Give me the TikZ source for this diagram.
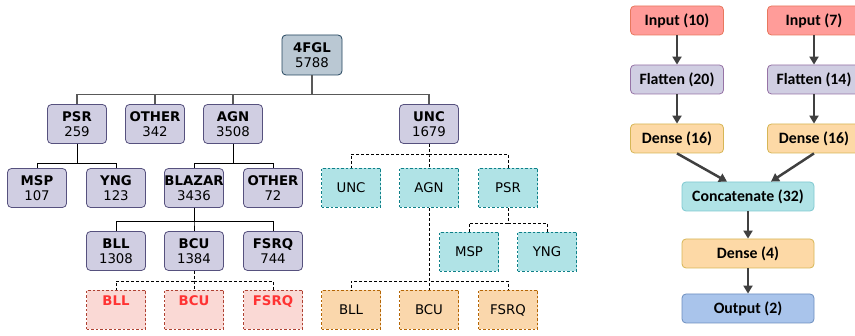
\documentclass[tikz,border=0pt]{standalone}
\usepackage{fontspec}
\setmainfont{DejaVu Sans}
\newfontfamily\calibfont{Carlito}
\usetikzlibrary{positioning,arrows.meta}

\definecolor{topfill}{HTML}{BAC8D3}
\definecolor{topline}{HTML}{23445D}
\definecolor{lavfill}{HTML}{D0CEE2}
\definecolor{lavline}{HTML}{56517E}
\definecolor{cyanfill}{HTML}{B0E3E6}
\definecolor{cyanline}{HTML}{0E8088}
\definecolor{orafill}{HTML}{FAD7AC}
\definecolor{oraline}{HTML}{B46504}
\definecolor{redfill}{HTML}{FAD9D5}
\definecolor{redline}{HTML}{AE4132}
\definecolor{redtext}{HTML}{FF3333}
\definecolor{infill}{HTML}{FF9C99}
\definecolor{inline}{HTML}{E8785E}
\definecolor{flline}{HTML}{9673A6}
\definecolor{defill}{HTML}{FDD9A6}
\definecolor{deline}{HTML}{D6B656}
\definecolor{catline}{HTML}{7EC8D0}
\definecolor{outfill}{HTML}{A9C4EB}
\definecolor{outline}{HTML}{6C8EBF}
\definecolor{arrowgray}{HTML}{404040}

\tikzset{
	box/.style={rectangle, minimum width=59pt, minimum height=39pt, inner sep=0pt, align=center, font=\fontsize{13.3}{15}\selectfont, line width=0.8pt},
	known/.style={box, rounded corners=4pt, draw=lavline, fill=lavfill},
	rootbox/.style={box, rounded corners=4pt, draw=topline, fill=topfill, minimum width=60pt, minimum height=40pt},
	guess/.style={box, dash pattern=on 2.5pt off 2pt, draw=#1line, fill=#1fill},
	edge/.style={draw=black, line width=0.8pt},
	dashedge/.style={edge, dash pattern=on 3pt off 2pt},
	layer/.style={rectangle, rounded corners=4pt, minimum width=93pt, minimum height=29pt, inner sep=0pt, line width=0.8pt, font=\calibfont\bfseries\fontsize{15.8}{18}\selectfont},
	flow/.style={draw=arrowgray, line width=2.5pt, -{Triangle[length=8pt,width=9pt]}}
}

\begin{document}
\begin{tikzpicture}[x=1pt,y=-1pt]
		\useasboundingbox (0,0) rectangle (855,336); % canvas as the picture
		
		% class tree
		\node[rootbox] (fgl) at (312,55) {\textbf{4FGL}\\5788}; % root
		\node[known] (psr) at (77,124) {\textbf{PSR}\\259};
		\node[known] (oth) at (155,124) {\textbf{OTHER}\\342};
		\node[known] (agn) at (233,124) {\textbf{AGN}\\3508};
		\node[known] (unc) at (429,124) {\textbf{UNC}\\1679};
		
		\node[known] (msp) at (37,188) {\textbf{MSP}\\107};
		\node[known] (yng) at (116,188) {\textbf{YNG}\\123};
		\node[known] (blz) at (194,188) {\textbf{BLAZAR}\\3436};
		\node[known] (agnoth) at (273,188) {\textbf{OTHER}\\72};
		
		\node[known] (bll) at (116,251) {\textbf{BLL}\\1308};
		\node[known] (bcu) at (194,251) {\textbf{BCU}\\1384};
		\node[known] (fsrq) at (273,251) {\textbf{FSRQ}\\744};
		
		% predicted classes of the BCU
		\node[guess=red, text=redtext] (pbll) at (116,310) {\textbf{BLL}\\\strut};
		\node[guess=red, text=redtext] (pbcu) at (194,310) {\textbf{BCU}\\\strut};
		\node[guess=red, text=redtext] (pfsrq) at (273,310) {\textbf{FSRQ}\\\strut};
		
		% predicted classes of the UNC
		\node[guess=cyan] (uunc) at (351,188) {UNC};
		\node[guess=cyan] (uagn) at (429,188) {AGN};
		\node[guess=cyan] (upsr) at (508,188) {PSR};
		\node[guess=cyan] (umsp) at (469,252) {MSP};
		\node[guess=cyan] (uyng) at (547,252) {YNG};
		\node[guess=ora] (ubll) at (351,310) {BLL};
		\node[guess=ora] (ubcu) at (429,310) {BCU};
		\node[guess=ora] (ufsrq) at (508,310) {FSRQ};
		
		\foreach \c in {psr,oth,agn,unc}
			\draw[edge, draw=black!65, line width=1.1pt] (fgl.south) |- ([yshift=10pt]\c.north) -- (\c.north); % root lines
		\foreach \c in {msp,yng}
			\draw[edge] (psr.south) |- ([yshift=5pt]\c.north) -- (\c.north);
		\foreach \c in {blz,agnoth}
			\draw[edge] (agn.south) |- ([yshift=5pt]\c.north) -- (\c.north);
		\foreach \c in {bll,bcu,fsrq}
			\draw[edge] (blz.south) |- ([yshift=10pt]\c.north) -- (\c.north);
		\foreach \c in {pbll,pbcu,pfsrq}
			\draw[dashedge] (bcu.south) |- ([yshift=9pt]\c.north) -- (\c.north);
		\foreach \c in {uunc,uagn,upsr}
			\draw[dashedge] (unc.south) |- ([yshift=14pt]\c.north) -- (\c.north);
		\foreach \c in {umsp,uyng}
			\draw[dashedge] (upsr.south) |- ([yshift=9pt]\c.north) -- (\c.north);
		\foreach \c in {ubll,ubcu,ufsrq}
			\draw[dashedge] (uagn.south) |- ([yshift=9pt]\c.north) -- (\c.north);
		
		% network
		\node[layer, draw=inline, fill=infill] (inA) at (677,20.5) {Input (10)};
		\node[layer, draw=inline, fill=infill] (inB) at (814,20.5) {Input (7)};
		\node[layer, draw=flline, fill=lavfill] (flA) at (677,79.5) {Flatten (20)};
		\node[layer, draw=flline, fill=lavfill] (flB) at (814,79.5) {Flatten (14)};
		\node[layer, draw=deline, fill=defill] (deA) at (677,138.5) {Dense (16)};
		\node[layer, draw=deline, fill=defill] (deB) at (814,138.5) {Dense (16)};
		\node[layer, draw=catline, fill=cyanfill, minimum width=132pt] (cat) at (748,196.5) {Concatenate (32)};
		\node[layer, draw=deline, fill=defill, minimum width=132pt] (deC) at (748,253.5) {Dense (4)};
		\node[layer, draw=outline, fill=outfill, minimum width=132pt] (out) at (748,308.5) {Output (2)};
		
		\draw[flow] (inA) -- (flA);
		\draw[flow] (inB) -- (flB);
		\draw[flow] (flA) -- (deA);
		\draw[flow] (flB) -- (deB);
		\draw[flow] (deA.south) -- ([xshift=-21pt]cat.north);
		\draw[flow] (deB.south) -- ([xshift=23pt]cat.north);
		\draw[flow] (cat) -- (deC);
		\draw[flow] (deC) -- (out);
\end{tikzpicture}
\end{document}
